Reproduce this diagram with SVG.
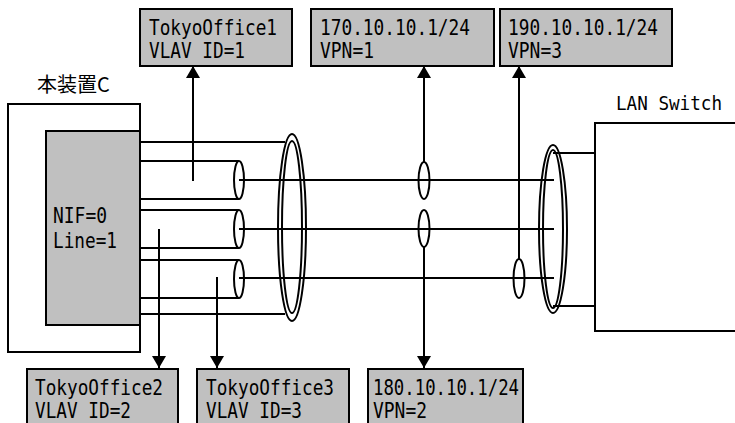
<svg xmlns="http://www.w3.org/2000/svg" width="735" height="423" viewBox="0 0 735 423">
<defs>
<style>
.box{fill:#c0c0c0;stroke:#000;stroke-width:2}
.wbox{fill:#fff;stroke:#000;stroke-width:2}
.ln{stroke:#000;stroke-width:2;fill:none}
.el{fill:none;stroke:#000;stroke-width:2}
.t{font-family:"DejaVu Sans Mono","Liberation Mono",monospace;font-size:21px;fill:#000}
.cjk{font-family:"Noto Sans CJK JP","Noto Sans CJK SC",sans-serif;font-size:20px;fill:#000}
</style>
<marker id="ah" viewBox="0 0 12 14" refX="12" refY="7" markerWidth="12" markerHeight="14" markerUnits="userSpaceOnUse" orient="auto">
<path d="M0,0 L12,7 L0,14 Z" fill="#000"/>
</marker>
</defs>
<rect width="735" height="423" fill="#fff"/>

<g id="deviceC">
<rect class="wbox" x="8" y="104" width="132" height="248"/>
<rect class="box" x="46" y="131" width="94" height="194"/>
<text class="cjk" x="37" y="92">本装置C</text>
<text class="t" x="53" y="223" textLength="54" lengthAdjust="spacingAndGlyphs">NIF=0</text>
<text class="t" x="53" y="248" textLength="64" lengthAdjust="spacingAndGlyphs">Line=1</text>
</g>

<g id="lanSwitch">
<rect class="wbox" x="595" y="123" width="150" height="208"/>
<text class="t" x="616" y="110" style="font-size:19px" textLength="106" lengthAdjust="spacingAndGlyphs">LAN Switch</text>
</g>

<g id="connectors">
<line class="ln" x1="140" y1="142" x2="285" y2="142"/>
<line class="ln" x1="140" y1="314" x2="285" y2="314"/>
<line class="ln" x1="140" y1="161" x2="239" y2="161"/>
<line class="ln" x1="140" y1="199" x2="239" y2="199"/>
<ellipse class="el" cx="239" cy="180" rx="5" ry="19"/>
<line class="ln" x1="140" y1="210" x2="239" y2="210"/>
<line class="ln" x1="140" y1="248" x2="239" y2="248"/>
<ellipse class="el" cx="239" cy="229" rx="5" ry="19"/>
<line class="ln" x1="140" y1="260" x2="239" y2="260"/>
<line class="ln" x1="140" y1="298" x2="239" y2="298"/>
<ellipse class="el" cx="239" cy="279" rx="5" ry="19"/>
<line class="ln" x1="239" y1="180" x2="554" y2="180"/>
<line class="ln" x1="239" y1="229" x2="554" y2="229"/>
<line class="ln" x1="239" y1="278" x2="554" y2="278"/>
<ellipse class="el" cx="292" cy="227.5" rx="14" ry="93.5"/>
<ellipse class="el" cx="292" cy="227" rx="10" ry="86"/>
<ellipse class="el" cx="553" cy="229" rx="14" ry="84"/>
<ellipse class="el" cx="553" cy="229" rx="10" ry="79"/>
<line class="ln" x1="553" y1="153" x2="595" y2="153"/>
<line class="ln" x1="553" y1="306" x2="595" y2="306"/>
<ellipse class="el" cx="424" cy="180.5" rx="5.5" ry="18.5"/>
<ellipse class="el" cx="424" cy="228.5" rx="5.5" ry="18.5"/>
<ellipse class="el" cx="519" cy="278.5" rx="5.5" ry="19.5"/>
<line class="ln" x1="193" y1="181" x2="193" y2="66" marker-end="url(#ah)"/>
<line class="ln" x1="424" y1="162" x2="424" y2="66" marker-end="url(#ah)"/>
<line class="ln" x1="519" y1="259" x2="519" y2="66" marker-end="url(#ah)"/>
<line class="ln" x1="159" y1="229" x2="159" y2="368" marker-end="url(#ah)"/>
<line class="ln" x1="217" y1="277" x2="217" y2="368" marker-end="url(#ah)"/>
<line class="ln" x1="424" y1="247" x2="424" y2="368" marker-end="url(#ah)"/>
</g>

<g id="tokyo1">
<rect class="box" x="140" y="9" width="152" height="57"/>
<text class="t" x="149" y="35" textLength="128" lengthAdjust="spacingAndGlyphs">TokyoOffice1</text>
<text class="t" x="149" y="58" textLength="96" lengthAdjust="spacingAndGlyphs">VLAV ID=1</text>
</g>
<g id="vpn1">
<rect class="box" x="311" y="9" width="183" height="57"/>
<text class="t" x="320" y="35" textLength="150" lengthAdjust="spacingAndGlyphs">170.10.10.1/24</text>
<text class="t" x="320" y="58" textLength="54" lengthAdjust="spacingAndGlyphs">VPN=1</text>
</g>
<g id="vpn3">
<rect class="box" x="500" y="9" width="172" height="57"/>
<text class="t" x="508" y="35" textLength="150" lengthAdjust="spacingAndGlyphs">190.10.10.1/24</text>
<text class="t" x="508" y="58" textLength="54" lengthAdjust="spacingAndGlyphs">VPN=3</text>
</g>
<g id="tokyo2">
<rect class="box" x="27" y="369" width="151" height="60"/>
<text class="t" x="35" y="395" textLength="128" lengthAdjust="spacingAndGlyphs">TokyoOffice2</text>
<text class="t" x="35" y="418" textLength="96" lengthAdjust="spacingAndGlyphs">VLAV ID=2</text>
</g>
<g id="tokyo3">
<rect class="box" x="197" y="369" width="152" height="60"/>
<text class="t" x="206" y="395" textLength="128" lengthAdjust="spacingAndGlyphs">TokyoOffice3</text>
<text class="t" x="206" y="418" textLength="96" lengthAdjust="spacingAndGlyphs">VLAV ID=3</text>
</g>
<g id="vpn2">
<rect class="box" x="368" y="369" width="155" height="60"/>
<text class="t" x="373" y="395" textLength="146" lengthAdjust="spacingAndGlyphs">180.10.10.1/24</text>
<text class="t" x="373" y="418" textLength="54" lengthAdjust="spacingAndGlyphs">VPN=2</text>
</g>
</svg>
